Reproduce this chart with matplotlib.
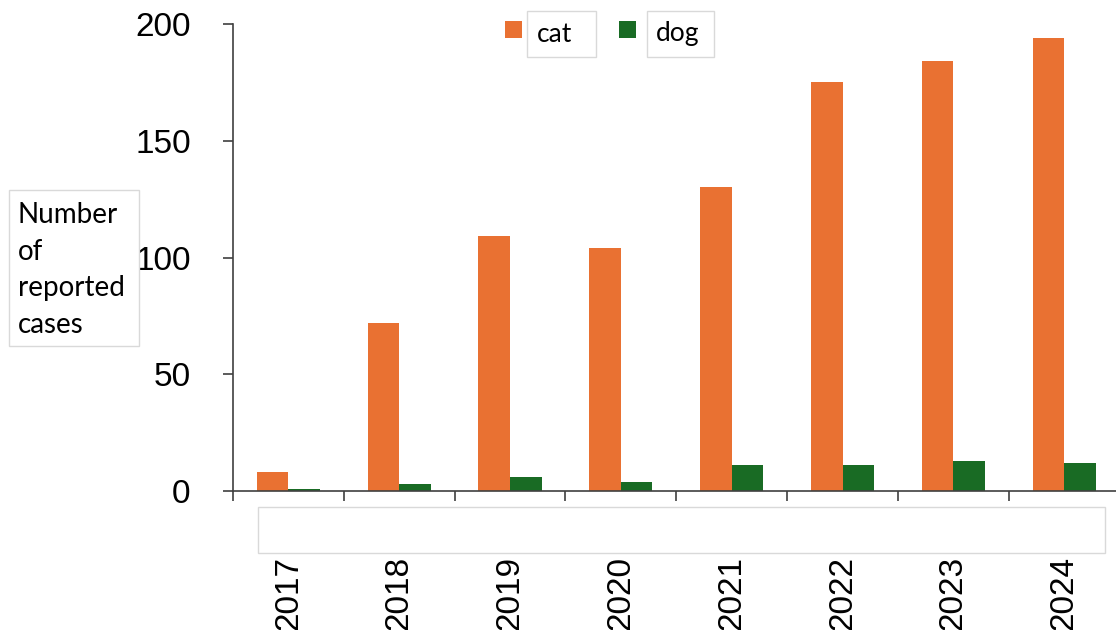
import numpy as np
import matplotlib
matplotlib.use("Agg")
import matplotlib.pyplot as plt
from matplotlib.patches import Rectangle

years = ["2017", "2018", "2019", "2020", "2021", "2022", "2023", "2024"]
cat = [8, 72, 109, 104, 130, 175, 184, 194]
dog = [1, 3, 6, 4, 11, 11, 13, 12]
yticks = [0, 50, 100, 150, 200]

CAT_COLOR = "#E97132"
DOG_COLOR = "#196B24"
W, H = 1116, 630

plt.rcParams['font.family'] = ['Liberation Sans', 'DejaVu Sans']

def fx(x):
    return x / W

def fy(y):
    return 1 - y / H

fig = plt.figure(figsize=(W / 100, H / 100), dpi=100)
ax = fig.add_axes([fx(233), fy(491), (1119.6 - 233) / W, (491 - 24) / H])

x = np.arange(len(years))
bw = 0.285
ax.bar(x - bw / 2, cat, bw, color=CAT_COLOR, label="cat")
ax.bar(x + bw / 2, dog, bw, color=DOG_COLOR, label="dog")

ax.set_xlim(-0.5, len(years) - 0.5)
ax.set_ylim(0, 200)

for s in ["top", "right"]:
    ax.spines[s].set_visible(False)
for s in ["left", "bottom"]:
    ax.spines[s].set_color("#404040")
    ax.spines[s].set_linewidth(1.2)

ax.set_yticks(yticks)
ax.tick_params(axis="y", direction="out", length=7.5, width=1.2, color="#404040",
               labelsize=24, pad=23)
ax.set_xticks(x)
ax.set_xticklabels(years, rotation=90, fontsize=24)
ax.set_xticks(np.arange(len(years) + 1) - 0.5, minor=True)
ax.tick_params(axis="x", which="major", length=0, pad=47)
ax.tick_params(axis="x", which="minor", direction="out", length=7.5, width=1.2, color="#404040")

# empty box under the axis
fig.add_artist(Rectangle((fx(257.5), fy(552.5)), (1104.5 - 257.5) / W, (552.5 - 506.5) / H,
                         transform=fig.transFigure, facecolor="white",
                         edgecolor="#d9d9d9", linewidth=1))

# y label box
fig.add_artist(Rectangle((fx(8.5), fy(346)), (139 - 8.5) / W, (346 - 190) / H,
                         transform=fig.transFigure, facecolor="white",
                         edgecolor="#d9d9d9", linewidth=1))
fig.text(fx(18), fy(270), "Number\nof\nreported\ncases", family=["Lato", "DejaVu Sans"],
         fontsize=20, ha="left", va="center", linespacing=1.5)

# legend
for sq_x, box_x0, box_x1, txt_x, label, color in [
        (505, 527, 596, 537, "cat", CAT_COLOR),
        (619, 647, 714, 656, "dog", DOG_COLOR)]:
    fig.add_artist(Rectangle((fx(sq_x), fy(38)), 17 / W, 17 / H,
                             transform=fig.transFigure, facecolor=color, edgecolor="none"))
    fig.add_artist(Rectangle((fx(box_x0), fy(57)), (box_x1 - box_x0) / W, 46 / H,
                             transform=fig.transFigure, facecolor="white",
                             edgecolor="#d9d9d9", linewidth=1))
    fig.text(fx(txt_x), fy(34), label, family=["Lato", "DejaVu Sans"],
             fontsize=19, ha="left", va="center")

fig.savefig("out.png", dpi=100)
